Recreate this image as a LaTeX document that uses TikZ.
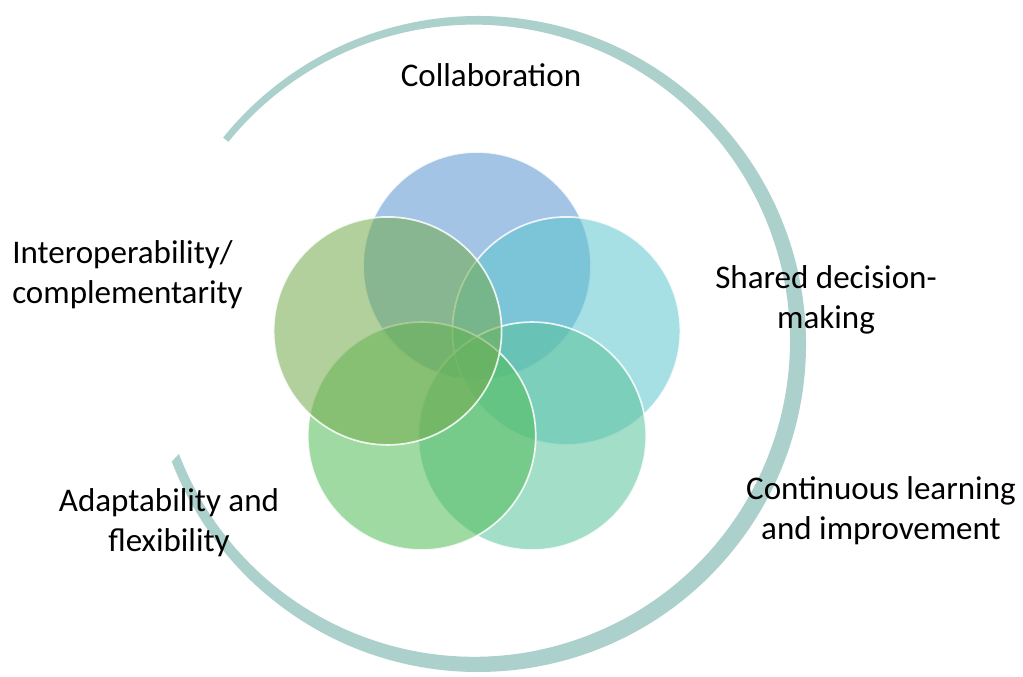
\documentclass[tikz,border=0pt]{standalone}
\usepackage{fontspec}
\setmainfont{Carlito}
\usepackage{xcolor}
\usepackage{tikz}
\usetikzlibrary{calc}

\definecolor{ringgray}{RGB}{172,208,203}
\definecolor{petalblue}{RGB}{88,148,208}
\definecolor{petalcyan}{RGB}{93,197,206}
\definecolor{petalteal}{RGB}{88,195,155}
\definecolor{petalgreen}{RGB}{82,188,88}
\definecolor{petalolive}{RGB}{115,170,75}

\begin{document}
\begin{tikzpicture}[
    petal/.style={circle, minimum size=5.7cm, inner sep=0pt, fill opacity=0.55,
        draw=white, draw opacity=0.85, line width=1.2pt},
    lbl/.style={font=\fontsize{23.5}{28.5}\selectfont, text=black, inner sep=0pt}
]
    \useasboundingbox (0,0) rectangle (25.575,16.925);

    % Brush ring round the petals
    \coordinate (ringc) at (11.95,8.325);
    \fill[ringgray] ($(ringc)+(141:8.2)$) arc[start angle=141, end angle=-159, radius=8.2]
        -- ($(ringc)+(141:0.13)+(-159:7.9)$) arc[start angle=-159, end angle=141, radius=7.9] -- cycle;

    % Five overlapping petals
    \coordinate (mid) at (11.925,7.925);
    \node[petal, fill=petalblue] (ptop) at ($(mid)+(90:2.35)$) {};
    \node[petal, fill=petalcyan] (pright) at ($(mid)+(18:2.35)$) {};
    \node[petal, fill=petalteal] (pbotr) at ($(mid)+(-54:2.35)$) {};
    \node[petal, fill=petalgreen] (pbotl) at ($(mid)+(-126:2.35)$) {};
    \node[petal, fill=petalolive] (pleft) at ($(mid)+(162:2.35)$) {};

    % Labels
    \node[lbl] (collab) at (12.275,15.05) {Collaboration};
    \node[lbl, align=left, anchor=west] (interop) at (0.3,10.05) {Interoperability/\\complementarity};
    \node[lbl, align=center] (shared) at (20.65,9.425) {Shared decision-\\making};
    \node[lbl, align=center] (contin) at (22.025,4.15) {Continuous learning\\and improvement};
    \node[lbl, align=center] (adapt) at (4.225,3.85) {Adaptability and\\flexibility};

\end{tikzpicture}
\end{document}
